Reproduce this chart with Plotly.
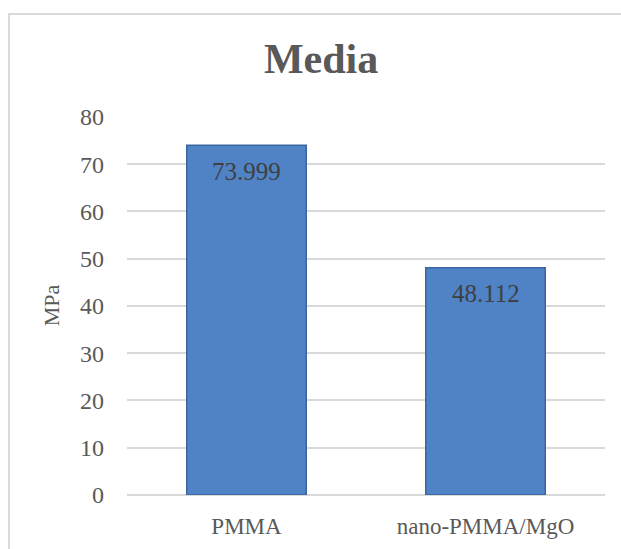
import plotly.graph_objects as go

categories = ["PMMA", "nano-PMMA/MgO"]
values = [73.999, 48.112]
labels = ["73.999", "48.112"]
y_ticks = [0, 10, 20, 30, 40, 50, 60, 70, 80]

FONT = "Liberation Serif"
TXT = "#595959"

fig = go.Figure()
fig.add_trace(go.Bar(
    x=categories, y=values,
    marker=dict(color="#4f83c6", line=dict(color="#3a669f", width=1.5)),
    width=0.5,
))

for c, v, t in zip(categories, values, labels):
    fig.add_annotation(x=c, y=v, text=t, showarrow=False, yshift=-26, yanchor="middle",
                       font=dict(family=FONT, size=25, color="#404040"))

fig.update_layout(
    width=621, height=549,
    margin=dict(l=127, r=16, t=116, b=54),
    paper_bgcolor="white", plot_bgcolor="white",
    showlegend=False,
    title=dict(text="<b>Media</b>", x=0.406, xref="paper", xanchor="center",
               y=0.893, yanchor="middle",
               font=dict(family=FONT, size=42, color=TXT)),
    font=dict(family=FONT, color=TXT),
    yaxis=dict(range=[0, 80.2], tickvals=y_ticks, showgrid=True, gridcolor="#d9d9d9", gridwidth=1.5,
               zeroline=True, zerolinecolor="#d9d9d9", zerolinewidth=1.5,
               tickfont=dict(family=FONT, size=24, color=TXT), ticklabelstandoff=22,
               title=dict(text="MPa", font=dict(family=FONT, size=22, color=TXT), standoff=14),
               showline=False, automargin=False),
    xaxis=dict(showgrid=False, showline=False, tickfont=dict(family=FONT, size=23, color=TXT),
               ticklabelstandoff=15, automargin=False),
    bargap=0.5,
)

fig.add_shape(type="rect", xref="paper", yref="paper",
              x0=-0.247, x1=1.3, y0=-0.3, y1=1.269,
              line=dict(color="#d9d9d9", width=2), fillcolor="rgba(0,0,0,0)", layer="below")

fig.write_html("out.html")
